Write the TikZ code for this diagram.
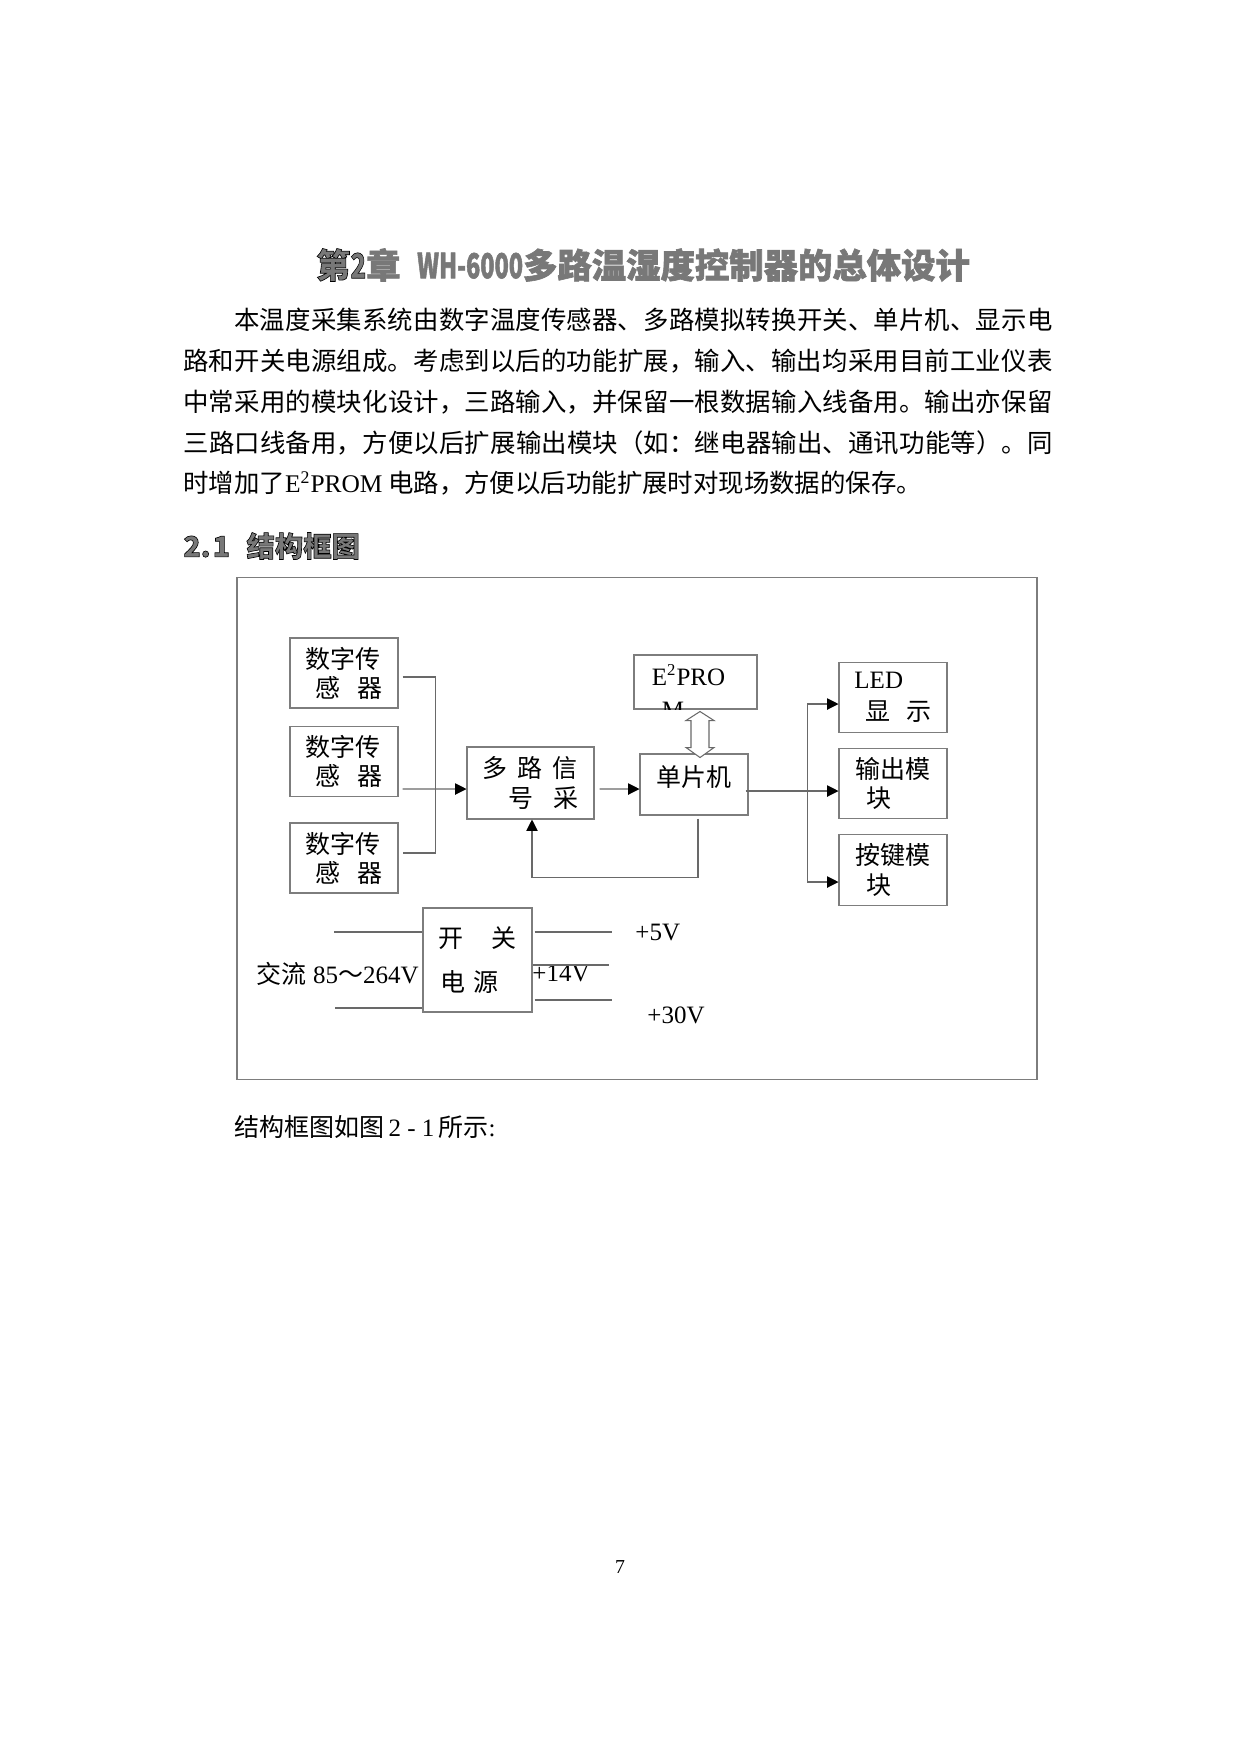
\documentclass[tikz,border=0pt]{standalone}
\usepackage{fontspec}
\usepackage{graphicx}
\setmainfont{Noto Sans CJK SC}
\newfontfamily\tnr{Liberation Serif}
\usetikzlibrary{arrows.meta,calc}
\XeTeXlinebreaklocale "zh"
\XeTeXlinebreakskip=0pt plus 1pt
\definecolor{box_gray}{RGB}{125,125,125}
\definecolor{wire_gray}{RGB}{105,105,105}
\definecolor{head_ink}{RGB}{120,120,120}
\newcommand{\hollowtext}[1]{\special{pdf:literal direct 0 G 2 Tr 0.3 w}#1\special{pdf:literal direct 0 Tr}}
\tikzstyle{blk}=[rectangle,draw=box_gray,line width=0.5pt,inner sep=0pt,
  align=left,font=\fontsize{12pt}{14pt}\selectfont]
\tikzstyle{wire}=[draw=wire_gray,line width=0.5pt]
\tikzstyle{arr}=[draw=wire_gray,line width=0.5pt,
  -{Triangle[length=5.5pt,width=5.5pt,color=black]}]
\tikzstyle{note}=[inner sep=0pt,font=\fontsize{12pt}{14pt}\selectfont]
\tikzstyle{none}=[]

\begin{document}
\begin{tikzpicture}[x=0.48pt,y=-0.48pt]
            \useasboundingbox (0,0) rectangle (1240,1754);
            \node [style=none,text=head_ink,font=\fontsize{16.5pt}{18pt}\selectfont\bfseries] (title) at (643, 265) {\hollowtext{第\scalebox{0.75}[1]{2}章\hspace{8pt}\scalebox{0.68}[1]{WH-6000}多路温湿度控制器的总体设计}};
            \node [style=none,anchor=north west,inner sep=0pt,text width=417.2pt,align=justify,font=\fontsize{12.2pt}{19.55pt}\selectfont] (body) at (183, 308) {\hspace*{2em}本温度采集系统由数字温度传感器、多路模拟转换开关、单片机、显示电\linebreak 路和开关电源组成。考虑到以后的功能扩展，输入、输出均采用目前工业仪表\linebreak 中常采用的模块化设计，三路输入，并保留一根数据输入线备用。输出亦保留\linebreak 三路口线备用，方便以后扩展输出模块（如：继电器输出、通讯功能等）。同\linebreak 时增加了{\tnr E\textsuperscript{2}PROM} 电路，方便以后功能扩展时对现场数据的保存。};
            \node [style=none,anchor=west,inner sep=0pt,text=head_ink,font=\fontsize{13.6pt}{15pt}\selectfont\bfseries] (sec) at (183, 546) {\hollowtext{2.\hspace{1pt}1\hspace{8pt}结构框图}};
            \node [style=none,draw=box_gray,line width=0.5pt,minimum width=384pt,minimum height=241.4pt] (fig) at (637, 828.5) {};
            \node [style=blk,minimum width=51.84pt,minimum height=33.6pt] (s1) at (344, 673) {数字传\\\hspace*{4.8pt}感\hspace{8.2pt}器};
            \node [style=blk,minimum width=51.84pt,minimum height=33.6pt] (s2) at (344, 761.5) {数字传\\\hspace*{4.8pt}感\hspace{8.2pt}器};
            \node [style=blk,minimum width=51.84pt,minimum height=33.6pt] (s3) at (344, 858) {数字传\\\hspace*{4.8pt}感\hspace{8.2pt}器};
            \node [style=blk,minimum width=60.96pt,minimum height=34.56pt] (mux) at (530.5, 783) {多\hspace{4.8pt}路\hspace{4.8pt}信\\[0.4pt]\hspace*{12.5pt}号\hspace{9.6pt}采};
            \node [style=blk,minimum width=51.84pt,minimum height=29.28pt] (mcu) at (694, 784.5) {\raisebox{-1pt}[0pt][0pt]{单片机}};
            \node [style=blk,minimum width=59.04pt,minimum height=25.92pt] (ee) at (695.5, 682) {};
            \begin{scope}
            \clip (ee.south west) rectangle (ee.north east);
            \node [style=none,anchor=north west,inner sep=0pt,align=left,font=\tnr\fontsize{12pt}{16pt}\selectfont] (eetext) at ($(ee.north west)+(18,10)$) {E\textsuperscript{2}PRO\\\hspace*{4.8pt}M};
            \end{scope}
            \node [style=blk,minimum width=51.84pt,minimum height=34pt] (led) at (893, 697.5) {{\tnr LED}\\[1.5pt]\hspace*{5.3pt}显\hspace{7.7pt}示};
            \node [style=blk,minimum width=51.84pt,minimum height=34pt] (out) at (893, 783.5) {输出模\\\hspace*{5.3pt}块};
            \node [style=blk,minimum width=51.84pt,minimum height=34pt] (key) at (893, 870) {按键模\\\hspace*{5.3pt}块};
            \node [style=blk,minimum width=52.32pt,minimum height=49.92pt] (psu) at (477.5, 960) {开\hspace{13.4pt}关\\[6.8pt]\hspace*{1pt}电\hspace{3.8pt}源};
            \node [style=note,anchor=east] (ac) at (419, 974) {交流{\tnr\ 85}～{\tnr 264V}};
            \node [style=note,anchor=west,font=\tnr\fontsize{12pt}{14pt}\selectfont] (v5) at (635, 932) {+5V};
            \node [style=note,anchor=west,font=\tnr\fontsize{12pt}{14pt}\selectfont] (v14) at (532, 973) {+14V};
            \node [style=note,anchor=west,font=\tnr\fontsize{12pt}{14pt}\selectfont] (v30) at (647, 1015) {+30V};
            \node [style=note,anchor=west] (cap) at (234, 1127) {结构框图如图{\tnr\,2 - 1\,}所示{\tnr :}};
            \node [style=none,inner sep=0pt,font=\tnr\fontsize{9.5pt}{11pt}\selectfont] (page) at (620, 1567) {7};
            \coordinate (split) at ($(mcu.east)+(59,6.5)$);
            \draw [style=wire] ($(s1.east)+(4,4)$) -- ++(33,0) |- ($(s3.east)+(4,-5)$);
            \draw [style=arr] ($(s2.east)+(4,27.5)$) to ($(mux.west)+(0,6)$);
            \draw [style=arr] ($(mux.east)+(5,6)$) to ($(mcu.west)+(0,4.5)$);
            \draw [style=arr] ($(mcu.south)+(4,3)$) -- ++(0,59) -| ($(mux.south)+(1.5,0)$);
            \draw [style=wire,fill=white] ($(ee.south)+(4.5,2)$) -- ++(14,9) -- ++(-5,0) -- ++(0,27) -- ++(5,0) -- ++(-14,10) -- ++(-14,-10) -- ++(5,0) -- ++(0,-27) -- ++(-5,0) -- cycle;
            \draw [style=wire] ($(mcu.east)+(-3,6.5)$) to (split);
            \draw [style=arr] (split) to ($(out.west)+(0,7.5)$);
            \draw [style=arr] (split) |- ($(led.west)+(0,6.5)$);
            \draw [style=arr] (split) |- ($(key.west)+(0,12)$);
            \draw [style=wire] ($(psu.west)+(-88,-28)$) to ($(psu.west)+(0,-28)$);
            \draw [style=wire] ($(psu.west)+(-87,48)$) to ($(psu.west)+(0,48)$);
            \draw [style=wire] ($(psu.east)+(2,-28)$) -- ++(77,0);
            \draw [style=wire] ($(psu.east)+(0,5)$) -- ++(76,0);
            \draw [style=wire] ($(psu.east)+(2,40)$) -- ++(77,0);
    \end{tikzpicture}
\end{document}
